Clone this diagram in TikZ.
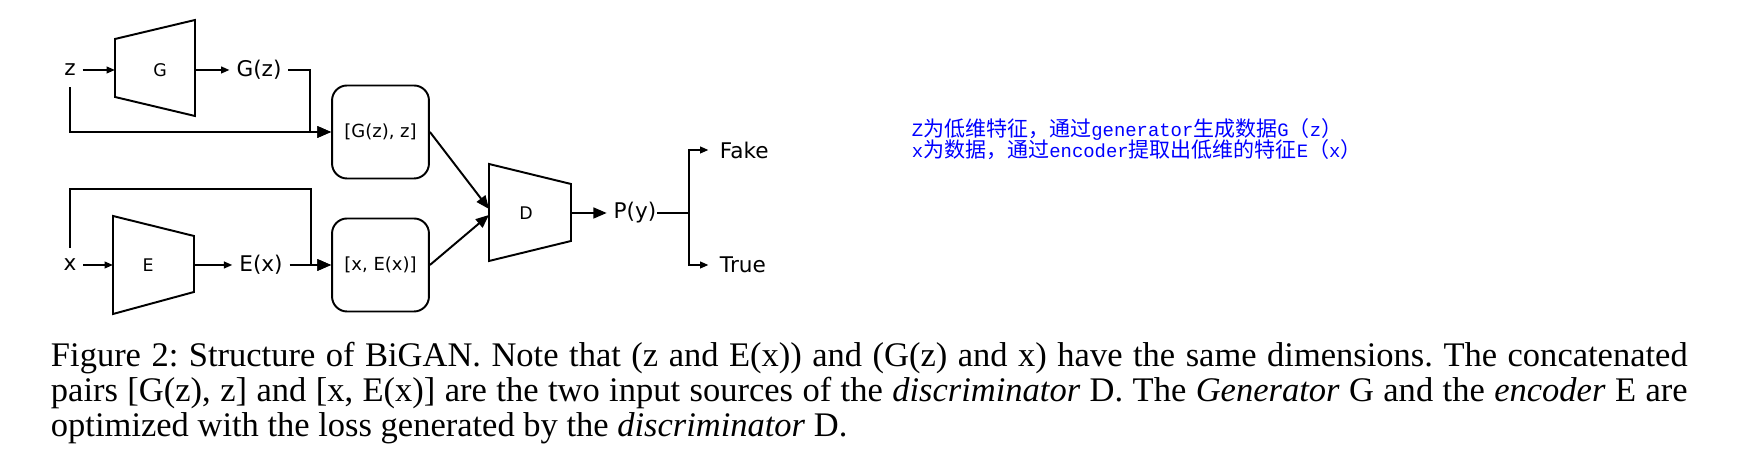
\documentclass[tikz,border=0pt]{standalone}
\usepackage{fontspec}
\usepackage{tikz}
\usetikzlibrary{arrows.meta,positioning}
\usepackage{xcolor}
\newfontfamily\diagfont{DejaVu Sans}
\newfontfamily\capfont{Liberation Serif}
\newfontfamily\cjk{Noto Sans CJK SC}
\newfontfamily\notemono[Scale=0.9]{Liberation Mono}
\definecolor{noteblue}{RGB}{0,0,255}
\frenchspacing
\tikzset{
  lbl/.style={font=\fontsize{7.2}{9}\selectfont\diagfont,inner sep=2pt},
  netlbl/.style={font=\fontsize{5.8}{7}\selectfont\diagfont,inner sep=1pt},
  pairbox/.style={draw,rounded corners=5pt,minimum width=32.3pt,minimum height=31pt,
                  inner sep=1pt,font=\fontsize{6}{8}\selectfont\diagfont},
  sarrow/.style={-{Triangle[length=2.8pt,width=2.2pt]}},
  marrow/.style={-{Triangle[length=4.4pt,width=3.6pt]}},
  barrow/.style={-{Triangle[length=4.6pt,width=3.8pt]}},
  capline/.style={anchor=base west,inner sep=0pt,font=\fontsize{11.5}{12}\selectfont\capfont},
  noteline/.style={anchor=base west,inner sep=0pt,text=noteblue,font=\fontsize{7}{7}\selectfont\cjk}
}

\begin{document}
\begin{tikzpicture}[x=0.3333pt,y=-0.3333pt,line width=0.65pt]
  \useasboundingbox (0,0) rectangle (1753,475);

  % generator branch
  \node[lbl] (z) at (70,70) {z};
  \draw (115,39) -- (195,20) -- (195,116) -- (115,97) -- cycle;
  \coordinate (Gin) at (115,70);
  \coordinate (Gout) at (195,70);
  \node[netlbl] (G) at (160,70) {G};
  \node[lbl] (Gz) at (259,70) {G(z)};
  \node[pairbox] (pz) at (380.5,132) {[G(z), z]};
  \coordinate (zjoin) at (310,132);
  \draw[sarrow] (z) -- (Gin);
  \draw[sarrow] (Gout) -- (Gz);
  \draw[barrow,shorten <=1.5pt] (z.south) |- (pz.west);
  \draw[barrow] (Gz.east) -| (zjoin) -- (pz.west);

  % encoder branch
  \node[lbl] (x) at (70,265) {x};
  \draw (113,216) -- (194,236) -- (194,292) -- (113,314) -- cycle;
  \coordinate (Ein) at (113,265);
  \coordinate (Eout) at (194,265);
  \node[netlbl] (E) at (148,265) {E};
  \node[lbl] (Ex) at (261,265) {E(x)};
  \node[pairbox] (px) at (380.5,265) {[x, E(x)]};
  \coordinate (xtop) at (70,189);
  \coordinate (xjoin) at (311,265);
  \draw[sarrow] (x) -- (Ein);
  \draw[sarrow] (Eout) -- (Ex);
  \draw[barrow] (Ex.east) -- (px.west);
  \draw[barrow,shorten <=1.5pt] (x.north) -- (xtop) -| (xjoin) -- (px.west);

  % discriminator
  \draw (489,164) -- (571,184) -- (571,241) -- (489,261) -- cycle;
  \coordinate (Din1) at (489,209);
  \coordinate (Din2) at (489,215);
  \coordinate (Dout) at (571,213);
  \node[netlbl] (D) at (526,213) {D};
  \draw[marrow] (pz.east) -- (Din1);
  \draw[marrow] (px.east) -- (Din2);
  \node[lbl,inner xsep=0pt] (Py) at (635,213) {P(y)};
  \draw[marrow,shorten >=2pt] (Dout) -- (Py);
  \coordinate (split) at (689,213);
  \node[lbl,anchor=west] (fake) at (713,150) {Fake};
  \node[lbl,anchor=west] (true) at (713,265) {True};
  \draw (Py.east) -- (split);
  \draw[sarrow,shorten >=1.5pt] (split) |- (fake.west);
  \draw[sarrow,shorten >=1.5pt] (split) |- (true.west);

  % note
  \node[noteline] (note1) at (911,137)
    {{\notemono Z}为低维特征，通过{\notemono generator}生成数据{\notemono G}（{\notemono z}）};
  \node[noteline] (note2) at (911,157.5)
    {{\notemono x}为数据，通过{\notemono encoder}提取出低维的特征{\notemono E}（{\notemono x}）};

  % caption
  \node[capline] (cap1) at (50,367) {\makebox[545.5pt][s]{Figure 2: Structure of BiGAN. Note that (z and E(x)) and (G(z) and x) have the same dimensions. The concatenated}};
  \node[capline] (cap2) at (50,402) {\makebox[545.5pt][s]{pairs [G(z), z] and [x, E(x)] are the two input sources of the \textit{discriminator} D. The \textit{Generator} G and the \textit{encoder} E are}};
  \node[capline] (cap3) at (50,437) {optimized with the loss generated by the \textit{discriminator} D.};
\end{tikzpicture}
\end{document}
